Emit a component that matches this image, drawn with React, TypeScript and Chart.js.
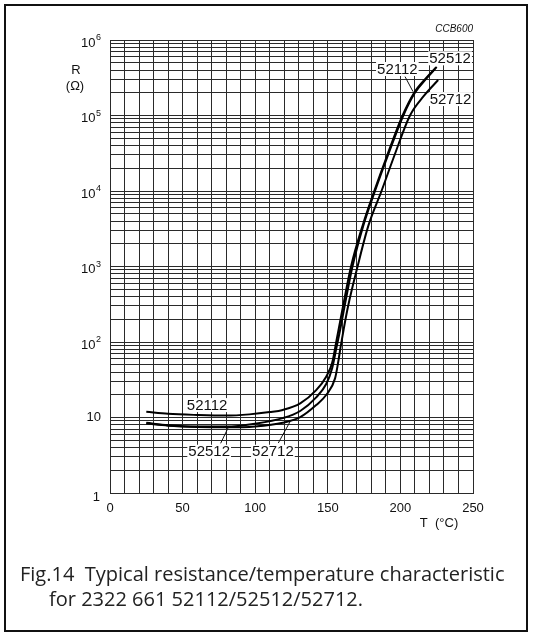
import React, { useEffect, useRef } from 'react';
import { Chart, registerables } from 'chart.js';

Chart.register(...registerables);

// ---- data ----
const temps52112 = [25, 40, 60, 80, 96, 110, 119, 131, 142, 149, 153, 156, 160, 166, 174, 182, 191, 201.5, 209.5, 217.5, 224.5];
const res52112 = [11.9, 11.2, 10.8, 10.6, 11.0, 11.8, 12.6, 15.4, 23, 35, 53, 105, 265, 1000, 3500, 10000, 30000, 100000, 200000, 310000, 430000];

const temps52512 = [25, 40, 60, 80, 100, 119, 131, 142, 149, 153, 156, 158.5, 162, 167, 174.5, 182.5, 191.5, 202, 210, 218, 225];
const res52512 = [8.5, 7.9, 7.6, 7.6, 8.3, 9.8, 12.2, 18.5, 28, 45, 85, 145, 330, 1000, 3500, 10000, 30000, 100000, 200000, 310000, 440000];

const temps52712 = [25, 40, 60, 80, 100, 119, 131, 142, 149, 155, 157, 159, 161, 164, 170.5, 178, 187, 196, 206.6, 216, 226];
const res52712 = [8.3, 7.8, 7.5, 7.4, 7.6, 8.5, 10.1, 14.6, 20, 33, 52, 90, 150, 300, 1000, 3500, 10000, 30000, 100000, 180000, 295000];

const seriesNames = ['52112', '52512', '52712'];

const xTickValues = [0, 50, 100, 150, 200, 250];
const xGridStep = 10;
const yExponents = [0, 1, 2, 3, 4, 5, 6];

// curve labels: text, centre (T, R) and optional leader line [from -> to]
const labelTexts = ['52112', '52512', '52712', '52112', '52512', '52712'];
const labelT = [197.9, 234.2, 234.5, 66.9, 68.3, 112.2];
const labelR = [413000, 572000, 165000, 14.6, 3.52, 3.52];
const leaderFromT = [203.2, null, null, null, 76.2, 115.9];
const leaderFromR = [327000, null, null, null, 4.55, 4.59];
const leaderToT = [208.7, null, null, null, 81.5, 124];
const leaderToR = [207000, null, null, null, 7.41, 8.8];

const FONT = '"Liberation Sans", Arial, sans-serif';

function buildYTicks() {
  const out: number[] = [];
  for (let e = 0; e < 6; e++) {
    for (let m = 1; m <= 9; m++) out.push(m * Math.pow(10, e));
  }
  out.push(1e6);
  return out;
}

function buildXTicks() {
  const out: number[] = [];
  for (let v = 0; v <= 250; v += xGridStep) out.push(v);
  return out;
}

const textPlugin = {
  id: 'customText',
  afterDraw(chart: any) {
    const ctx = chart.ctx;
    const xs = chart.scales.x;
    const ys = chart.scales.y;
    const area = chart.chartArea;
    ctx.save();
    ctx.fillStyle = '#111';
    ctx.textBaseline = 'middle';

    // y tick labels
    yExponents.forEach((e) => {
      const py = ys.getPixelForValue(Math.pow(10, e));
      const rx = area.left - 9;
      if (e === 0) {
        ctx.font = `13px ${FONT}`;
        ctx.textAlign = 'right';
        ctx.fillText('1', rx - 1, py + 4);
      } else if (e === 1) {
        ctx.font = `13px ${FONT}`;
        ctx.textAlign = 'right';
        ctx.fillText('10', rx, py);
      } else {
        ctx.font = `9px ${FONT}`;
        ctx.textAlign = 'right';
        const sup = String(e);
        ctx.fillText(sup, rx, py - 2);
        const w = ctx.measureText(sup).width;
        ctx.font = `13px ${FONT}`;
        ctx.fillText('10', rx - w - 0.5, py + 3);
      }
    });

    // x tick labels
    ctx.font = `13px ${FONT}`;
    ctx.textAlign = 'center';
    xTickValues.forEach((v) => {
      ctx.fillText(String(v), xs.getPixelForValue(v), area.bottom + 15);
    });

    // axis titles
    ctx.textAlign = 'center';
    ctx.fillText('T  (\u00B0C)', area.right - 34, area.bottom + 30);
    ctx.fillText('R', area.left - 34, area.top + 30);
    ctx.fillText('(\u03A9)', area.left - 35, area.top + 46);

    // code
    ctx.font = `italic 10px ${FONT}`;
    ctx.textAlign = 'right';
    ctx.fillText('CCB600', area.right, area.top - 11);

    // curve labels
    ctx.font = `15px ${FONT}`;
    ctx.textAlign = 'center';
    labelTexts.forEach((t, i) => {
      const cx = xs.getPixelForValue(labelT[i]);
      const cy = ys.getPixelForValue(labelR[i]);
      const w = ctx.measureText(t).width;
      ctx.fillStyle = '#fff';
      ctx.fillRect(cx - w / 2 - 1, cy - 7, w + 2, 14);
      ctx.fillStyle = '#111';
      ctx.fillText(t, cx, cy + 0.5);
      if (leaderFromT[i] != null) {
        ctx.beginPath();
        ctx.strokeStyle = '#111';
        ctx.lineWidth = 1;
        ctx.moveTo(xs.getPixelForValue(leaderFromT[i]), ys.getPixelForValue(leaderFromR[i]));
        ctx.lineTo(xs.getPixelForValue(leaderToT[i]), ys.getPixelForValue(leaderToR[i]));
        ctx.stroke();
      }
    });
    ctx.restore();
  },
};

export default function App() {
  const ref = useRef<HTMLCanvasElement | null>(null);

  useEffect(() => {
    if (!ref.current) return;
    const mk = (ts: number[], rs: number[]) => ts.map((t, i) => ({ x: t, y: rs[i] }));
    const chart = new Chart(ref.current, {
      type: 'line',
      data: {
        datasets: [
          { label: seriesNames[0], data: mk(temps52112, res52112) },
          { label: seriesNames[1], data: mk(temps52512, res52512) },
          { label: seriesNames[2], data: mk(temps52712, res52712) },
        ],
      },
      options: {
        animation: false,
        responsive: false,
        maintainAspectRatio: false,
        layout: { padding: { left: 110, right: 72, top: 40, bottom: 149 } },
        plugins: { legend: { display: false }, tooltip: { enabled: false } },
        elements: {
          point: { radius: 0 },
          line: { borderWidth: 2, borderColor: '#000', cubicInterpolationMode: 'monotone', fill: false },
        },
        scales: {
          x: {
            type: 'linear',
            min: 0,
            max: 250,
            afterBuildTicks: (s: any) => {
              s.ticks = buildXTicks().map((v) => ({ value: v }));
            },
            ticks: { display: false, autoSkip: false },
            grid: { color: '#2a2a2a', lineWidth: 1, drawTicks: false },
            border: { display: true, color: '#2a2a2a', width: 1 },
          },
          y: {
            type: 'logarithmic',
            min: 1,
            max: 1e6,
            afterBuildTicks: (s: any) => {
              s.ticks = buildYTicks().map((v) => ({ value: v }));
            },
            ticks: { display: false, autoSkip: false },
            grid: { color: '#2a2a2a', lineWidth: 1, drawTicks: false },
            border: { display: true, color: '#2a2a2a', width: 1 },
          },
        },
      },
      plugins: [textPlugin],
    } as any);
    return () => chart.destroy();
  }, []);

  return (
    <div style={{ position: 'fixed', left: 0, top: 0, width: 545, height: 642, background: '#fff' }}>
      <canvas ref={ref} width={545} height={642} style={{ position: 'absolute', left: 0, top: 0, width: 545, height: 642 }} />
      <div
        style={{
          position: 'absolute',
          left: 4,
          top: 4,
          width: 524,
          height: 628,
          boxSizing: 'border-box',
          border: '2px solid #111',
          pointerEvents: 'none',
        }}
      />
      <div
        style={{
          position: 'absolute',
          left: 20,
          top: 561,
          fontFamily: '"Open Sans", "Liberation Sans", sans-serif',
          fontSize: 20,
          lineHeight: '25px',
          color: '#222',
          whiteSpace: 'pre',
        }}
      >
        <div>{'Fig.14  Typical resistance/temperature characteristic'}</div>
        <div style={{ paddingLeft: 29 }}>{'for 2322 661 52112/52512/52712.'}</div>
      </div>
    </div>
  );
}
